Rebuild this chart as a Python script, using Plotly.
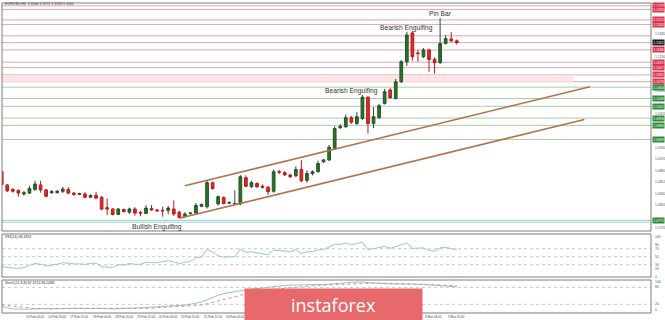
import plotly.graph_objects as go

W, H = 665, 320

# EURUSD H4, 13 Feb 2020 12:00 -> 4 Mar 2020 04:00 (one entry per candle)
opens = [1.0878, 1.0849, 1.0839, 1.0837, 1.0829, 1.0831, 1.0839, 1.0849, 1.0838, 1.0832,
         1.0832, 1.0835, 1.0839, 1.0831, 1.0830, 1.0829, 1.0822, 1.0826, 1.0822, 1.0799,
         1.0796, 1.0784, 1.0795, 1.0789, 1.0796, 1.0788, 1.0786, 1.0797, 1.0794, 1.0793,
         1.0793, 1.0796, 1.0789, 1.0779, 1.0786, 1.0787, 1.0802, 1.0801, 1.0854, 1.0807,
         1.0821, 1.0809, 1.0807, 1.0807, 1.0865, 1.0845, 1.0852, 1.0846, 1.0844, 1.0835,
         1.0878, 1.0876, 1.0871, 1.0869, 1.0883, 1.0859, 1.0874, 1.0878, 1.0900, 1.0904,
         1.0929, 1.0975, 1.0977, 1.0997, 1.0984, 1.0995, 1.1042, 1.0984, 1.0997, 1.1028,
         1.1058, 1.1039, 1.1076, 1.1120, 1.1183, 1.1139, 1.1131, 1.1146, 1.1125, 1.1118,
         1.1160, 1.1170, 1.1166]
highs = [1.0881, 1.0851, 1.0842, 1.0839, 1.0836, 1.0847, 1.0858, 1.0858, 1.0840, 1.0838,
         1.0838, 1.0845, 1.0844, 1.0833, 1.0832, 1.0833, 1.0828, 1.0834, 1.0824, 1.0819,
         1.0798, 1.0798, 1.0797, 1.0799, 1.0800, 1.0792, 1.0804, 1.0805, 1.0796, 1.0801,
         1.0803, 1.0815, 1.0792, 1.0789, 1.0789, 1.0809, 1.0808, 1.0858, 1.0856, 1.0826,
         1.0824, 1.0813, 1.0837, 1.0871, 1.0870, 1.0858, 1.0855, 1.0850, 1.0846, 1.0883,
         1.0882, 1.0879, 1.0873, 1.0890, 1.0904, 1.0881, 1.0881, 1.0902, 1.0906, 1.0937,
         1.0978, 1.0983, 1.1004, 1.1001, 1.1009, 1.1047, 1.1044, 1.1020, 1.1027, 1.1060,
         1.1062, 1.1082, 1.1124, 1.1186, 1.1188, 1.1146, 1.1150, 1.1149, 1.1130, 1.1216,
         1.1179, 1.1185, 1.1169]
lows = [1.0848, 1.0833, 1.0832, 1.0823, 1.0825, 1.0829, 1.0836, 1.0832, 1.0822, 1.0829,
        1.0830, 1.0831, 1.0829, 1.0825, 1.0827, 1.0819, 1.0820, 1.0817, 1.0793, 1.0783,
        1.0782, 1.0783, 1.0789, 1.0785, 1.0781, 1.0780, 1.0785, 1.0792, 1.0790, 1.0779,
        1.0784, 1.0781, 1.0776, 1.0778, 1.0784, 1.0786, 1.0800, 1.0797, 1.0839, 1.0804,
        1.0806, 1.0807, 1.0806, 1.0804, 1.0844, 1.0842, 1.0842, 1.0841, 1.0827, 1.0832,
        1.0873, 1.0869, 1.0864, 1.0866, 1.0855, 1.0854, 1.0870, 1.0876, 1.0897, 1.0901,
        1.0926, 1.0972, 1.0974, 1.0983, 1.0981, 1.0992, 1.0962, 1.0974, 1.0994, 1.1026,
        1.1038, 1.1037, 1.1073, 1.1111, 1.1122, 1.1120, 1.1128, 1.1098, 1.1094, 1.1115,
        1.1158, 1.1163, 1.1158]
closes = [1.0850, 1.0836, 1.0835, 1.0831, 1.0832, 1.0841, 1.0851, 1.0838, 1.0824, 1.0834,
          1.0835, 1.0840, 1.0831, 1.0828, 1.0828, 1.0822, 1.0826, 1.0820, 1.0796, 1.0796,
          1.0784, 1.0796, 1.0790, 1.0796, 1.0787, 1.0787, 1.0798, 1.0794, 1.0792, 1.0792,
          1.0798, 1.0785, 1.0777, 1.0785, 1.0787, 1.0804, 1.0806, 1.0854, 1.0841, 1.0823,
          1.0808, 1.0810, 1.0808, 1.0867, 1.0846, 1.0854, 1.0845, 1.0844, 1.0834, 1.0878,
          1.0877, 1.0871, 1.0867, 1.0883, 1.0858, 1.0874, 1.0878, 1.0896, 1.0904, 1.0932,
          1.0973, 1.0978, 1.0997, 1.0987, 1.0999, 1.1042, 1.0984, 1.0999, 1.1023, 1.1054,
          1.1041, 1.1076, 1.1120, 1.1179, 1.1131, 1.1138, 1.1146, 1.1125, 1.1118, 1.1160,
          1.1171, 1.1166, 1.1162]

# RSI(14) per candle
rsi = [25, 23, 22, 21, 23, 28, 33, 31, 27, 29, 31, 35, 33, 32, 32, 31, 33, 34, 25, 24,
       23, 30, 29, 33, 31, 31, 36, 35, 35, 38, 40, 37, 33, 36, 38, 48, 49, 68, 62, 52,
       49, 50, 50, 69, 61, 62, 60, 58, 55, 67, 66, 64, 62, 68, 58, 62, 63, 67, 68, 75,
       81, 81, 84, 80, 83, 86, 67, 70, 73, 76, 71, 75, 80, 84, 71, 71, 72, 66, 64, 72,
       74, 70, 68.4]

# Stochastic(21,8,8): main and signal per candle
stoch_main = [12, 8, 4, 3, 2, 3, 4, 5, 5, 4, 5, 6, 7, 6, 6, 5, 5, 6, 5, 4,
              4, 5, 5, 6, 7, 8, 9, 10, 12, 13, 14, 15, 16, 17, 20, 24, 28, 36, 45, 52,
              58, 62, 65, 68, 71, 74, 76, 78, 80, 83, 85, 87, 88, 88, 88, 89, 89, 90, 90, 91,
              92, 94, 96, 98, 99, 99, 97, 95, 94, 93, 92, 92, 92, 93, 92, 91, 90, 89, 88, 87,
              85, 84, 82.3]
stoch_signal = [18, 16, 13, 10, 8, 6, 5, 5, 5, 5, 4, 4, 5, 5, 5, 5, 5, 5, 5, 5,
                5, 5, 5, 5, 5, 5, 6, 7, 8, 9, 11, 12, 13, 14, 15, 16, 18, 22, 27, 33,
                39, 44, 48, 52, 56, 60, 64, 67, 70, 73, 75, 78, 80, 82, 84, 85, 86, 87, 88, 88,
                89, 89, 90, 91, 92, 93, 94, 95, 95, 95, 94, 94, 93, 93, 92, 92, 91, 90, 89, 88,
                87.5, 87, 86.05]

# Time axis labels (every 4th candle)
date_idx = [0, 4, 8, 12, 16, 20, 24, 28, 32, 36, 40, 44, 48, 52, 56, 60, 64, 68, 72, 76, 80]
date_txt = ["13 Feb 2020", "14 Feb 04:00", "14 Feb 20:00", "17 Feb 12:00", "18 Feb 04:00",
            "18 Feb 20:00", "19 Feb 12:00", "20 Feb 04:00", "20 Feb 20:00", "21 Feb 12:00",
            "24 Feb 04:00", "24 Feb 20:00", "25 Feb 12:00", "26 Feb 04:00", "26 Feb 20:00",
            "27 Feb 12:00", "28 Feb 04:00", "28 Feb 20:00", "2 Mar 12:00", "3 Mar 04:00",
            "3 Mar 20:00"]

# Horizontal levels
resistance = [1.1251, 1.1243, 1.1235, 1.1212, 1.1202, 1.1146, 1.1119, 1.1107, 1.1091, 1.1076]
extra_lines = [1.1177]
current_price = 1.1162
support = [1.1064, 1.1039, 1.1022, 1.0996, 1.0980, 1.0949]
base_support = [1.0771, 1.0767]
zone = [1.1076, 1.1091]

# Channel lines (candle index, price)
upper_chan_x = [33.0, 106.0]
upper_chan_y = [1.0847, 1.1065]
lower_chan_x = [32.0, 105.0]
lower_chan_y = [1.07755, 1.0993]

price_ticks = [1.1180, 1.1130, 1.1055, 1.1005, 1.0930, 1.0905, 1.0880, 1.0855, 1.0830, 1.0805, 1.0755]
rsi_ticks = [100, 80, 70, 50, 30, 20, 0]
stoch_ticks = [100, 80, 20, 0]

idx = list(range(len(opens)))


def xp(p):
    return p / W


def yp(p):
    return 1 - p / H


TXT = "Liberation Sans, Arial, sans-serif"
X_RANGE = [0.05, 117.0]
X_DOM = [xp(2), xp(651)]
ZONE_END = 103

fig = go.Figure()

fig.add_trace(go.Candlestick(
    x=idx, open=opens, high=highs, low=lows, close=closes,
    increasing=dict(line=dict(color="#2d4f2d", width=1), fillcolor="#1f7a1f"),
    decreasing=dict(line=dict(color="#b81c1c", width=1), fillcolor="#e8262a"),
    whiskerwidth=0, xaxis="x", yaxis="y", showlegend=False, hoverinfo="skip",
))

for cx, cy in ((upper_chan_x, upper_chan_y), (lower_chan_x, lower_chan_y)):
    fig.add_trace(go.Scatter(x=cx, y=cy, mode="lines", line=dict(color="#b2734d", width=1.6),
                             xaxis="x", yaxis="y", showlegend=False, hoverinfo="skip"))

fig.add_trace(go.Scatter(x=idx, y=rsi, mode="lines", line=dict(color="#9cc4d8", width=1),
                         xaxis="x2", yaxis="y2", showlegend=False, hoverinfo="skip"))
fig.add_trace(go.Scatter(x=idx, y=stoch_main, mode="lines", line=dict(color="#8ec7c6", width=1),
                         xaxis="x3", yaxis="y3", showlegend=False, hoverinfo="skip"))
fig.add_trace(go.Scatter(x=idx, y=stoch_signal, mode="lines",
                         line=dict(color="#e28a8a", width=1, dash="dot"),
                         xaxis="x3", yaxis="y3", showlegend=False, hoverinfo="skip"))

shapes = []
# zone band
shapes.append(dict(type="rect", xref="x", yref="y", x0=X_RANGE[0], x1=ZONE_END,
                   y0=zone[0], y1=zone[1], fillcolor="#fde3e3", line=dict(width=0), layer="below"))
for lv in resistance + extra_lines + [current_price]:
    shapes.append(dict(type="line", xref="x domain", yref="y", x0=0, x1=1, y0=lv, y1=lv,
                       line=dict(color="#d9a7b0", width=1), layer="below"))
for lv in support:
    shapes.append(dict(type="line", xref="x domain", yref="y", x0=0, x1=1, y0=lv, y1=lv,
                       line=dict(color="#a9cca9", width=1), layer="below"))
for lv in base_support:
    shapes.append(dict(type="line", xref="x domain", yref="y", x0=0, x1=1, y0=lv, y1=lv,
                       line=dict(color="#97d3c8", width=1), layer="below"))
# indicator levels
for lv in (70, 50, 30):
    shapes.append(dict(type="line", xref="x2 domain", yref="y2", x0=0, x1=1, y0=lv, y1=lv,
                       line=dict(color="#c8c8c8", width=1, dash="dot"), layer="below"))
for lv in (80, 20):
    shapes.append(dict(type="line", xref="x3 domain", yref="y3", x0=0, x1=1, y0=lv, y1=lv,
                       line=dict(color="#c8c8c8", width=1, dash="dot"), layer="below"))
# panel frames
for top, bot in ((3, 231), (234, 277), (280, 313)):
    shapes.append(dict(type="rect", xref="paper", yref="paper", x0=xp(2), x1=xp(651),
                       y0=yp(bot), y1=yp(top), line=dict(color="#7d7d7d", width=1)))

ann = []


def small(x, y, text, xref="paper", yref="paper", color="#555555", size=3.4,
          xanchor="left", bg=None):
    d = dict(x=x, y=y, xref=xref, yref=yref, text=text, showarrow=False,
             xanchor=xanchor, yanchor="middle", font=dict(family=TXT, size=size, color=color))
    if bg:
        d.update(bgcolor=bg, borderpad=0.5)
    ann.append(d)


small(xp(3), yp(4.5), "EURUSD,H4  1.1160 1.1171 1.1150 1.1161", color="#333333", size=3.6)
small(xp(3), yp(237), "RSI(14) 68.4394", color="#333333", size=3.6)
small(xp(3), yp(283), "Stoch(21,8,8) 82.3214 86.0486", color="#333333", size=3.6)

for t in price_ticks:
    small(xp(653), t, f"{t:.4f}", yref="y")
for lv in resistance:
    small(xp(652), lv, f"{lv:.4f}", yref="y", color="white", bg="#d6354d")
small(xp(652), current_price, f"{current_price:.4f}", yref="y", color="white", bg="#1a1a1a")
for lv in support + base_support[:1]:
    small(xp(652), lv, f"{lv:.4f}", yref="y", color="white", bg="#2e8a3a")
for t in rsi_ticks:
    small(xp(653), t, str(t), yref="y2")
for t in stoch_ticks:
    small(xp(653), t, str(t), yref="y3")
for i, t in zip(date_idx, date_txt):
    small(i, yp(316.5), t, xref="x3", size=3.1, color="#444444")

for x, y, t in ((406, 27.5, "Bearish Engulfing"), (440, 13.5, "Pin Bar"),
                (351.5, 91, "Bearish Engulfing"), (157, 227, "Bullish Engulfing")):
    ann.append(dict(x=xp(x), y=yp(y), xref="paper", yref="paper", text=t, showarrow=False,
                    xanchor="center", yanchor="middle",
                    font=dict(family=TXT, size=6.7, color="#333333")))

# brand badge
ann.append(dict(x=xp(333.5), y=yp(304.5), xref="paper", yref="paper", text="instaforex",
                showarrow=False, xanchor="center", yanchor="middle", width=177, height=31,
                bgcolor="#e7696b", borderpad=0, align="center", valign="middle",
                font=dict(family="Open Sans, sans-serif", size=18, color="white")))

axis_common = dict(showgrid=False, zeroline=False, showticklabels=False, showline=False,
                   ticks="")
fig.update_layout(
    width=W, height=H, margin=dict(l=0, r=0, t=0, b=0),
    paper_bgcolor="white", plot_bgcolor="white", showlegend=False,
    xaxis=dict(domain=X_DOM, range=X_RANGE, anchor="y", rangeslider=dict(visible=False),
               **axis_common),
    xaxis2=dict(domain=X_DOM, range=X_RANGE, anchor="y2", **axis_common),
    xaxis3=dict(domain=X_DOM, range=X_RANGE, anchor="y3", **axis_common),
    yaxis=dict(domain=[yp(231), yp(3)], range=[1.07476, 1.12492], anchor="x", **axis_common),
    yaxis2=dict(domain=[yp(277), yp(234)], range=[-0.75, 106.75], anchor="x2", **axis_common),
    yaxis3=dict(domain=[yp(313), yp(280)], range=[-10.6, 106], anchor="x3", **axis_common),
    shapes=shapes, annotations=ann,
)

fig.write_html("out.html")
